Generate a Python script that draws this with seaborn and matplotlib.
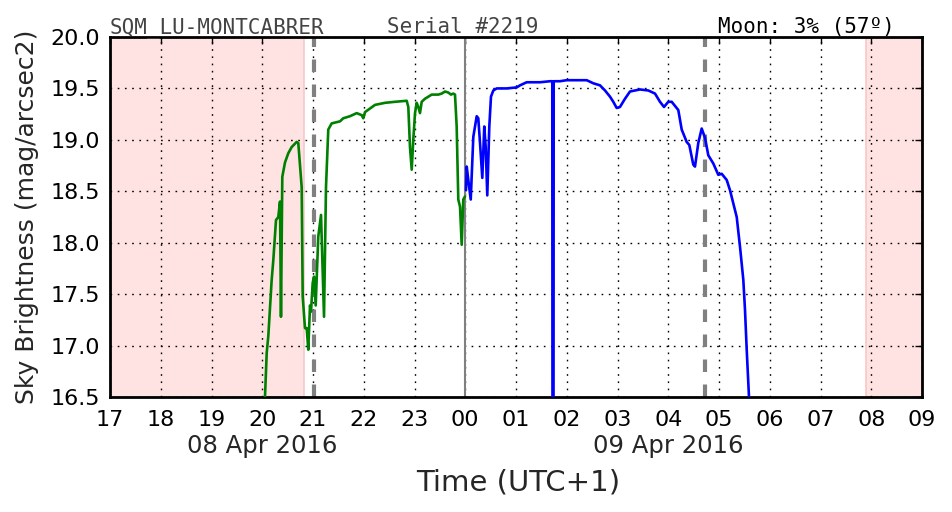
import matplotlib
matplotlib.use("Agg")
import matplotlib.pyplot as plt
import seaborn as sns
import numpy as np
import pandas as pd

# ---- data (hours since 00:00 on 08 Apr 2016; >24 means 09 Apr) ----
green_t = [20.03, 20.054, 20.088, 20.119, 20.186, 20.218, 20.271, 20.316, 20.350, 20.369,
           20.395, 20.448, 20.513, 20.580, 20.679, 20.710, 20.777, 20.797, 20.842, 20.876,
           20.907, 20.941, 20.961, 20.994, 21.020, 21.053, 21.104, 21.158, 21.217, 21.256,
           21.301, 21.368, 21.532, 21.597, 21.729, 21.861, 21.960, 21.991, 22.025, 22.222,
           22.419, 22.616, 22.846, 22.878, 22.911, 22.945, 22.976, 23.010, 23.043, 23.075,
           23.108, 23.142, 23.207, 23.339, 23.469, 23.536, 23.601, 23.666, 23.719, 23.764,
           23.798, 23.831, 23.863, 23.897, 23.930, 23.961, 23.995]
green_v = [16.30, 16.50, 16.93, 17.09, 17.64, 17.83, 18.22, 18.25, 18.40, 17.28,
           18.64, 18.78, 18.87, 18.93, 18.98, 18.97, 18.54, 17.48, 17.17, 17.17,
           16.96, 17.39, 17.33, 17.61, 17.67, 17.39, 18.06, 18.27, 17.28, 18.54,
           19.10, 19.16, 19.18, 19.21, 19.23, 19.26, 19.24, 19.21, 19.27, 19.34,
           19.36, 19.37, 19.38, 19.32, 18.93, 18.71, 19.00, 19.26, 19.36, 19.32,
           19.26, 19.37, 19.40, 19.44, 19.44, 19.45, 19.47, 19.46, 19.44, 19.45,
           19.44, 19.13, 18.42, 18.35, 17.98, 18.42, 18.45]

blue_t = [24.015, 24.029, 24.060, 24.108, 24.159, 24.226, 24.257, 24.291, 24.336, 24.375,
          24.403, 24.434, 24.474, 24.507, 24.553, 24.620, 24.817, 25.014, 25.079, 25.211,
          25.473, 25.670, 25.715, 25.722, 25.736, 25.743, 25.867, 25.999, 26.129, 26.261,
          26.393, 26.523, 26.655, 26.754, 26.852, 26.917, 26.984, 27.049, 27.148, 27.246,
          27.443, 27.607, 27.739, 27.837, 27.916, 28.001, 28.068, 28.198, 28.265, 28.363,
          28.415, 28.493, 28.527, 28.592, 28.659, 28.724, 28.789, 28.888, 28.986, 29.053,
          29.152, 29.217, 29.349, 29.414, 29.479, 29.512, 29.546, 29.591, 29.62]
blue_v = [18.51, 18.74, 18.61, 18.42, 19.03, 19.23, 19.21, 18.97, 18.63, 19.13,
          18.93, 18.46, 19.13, 19.42, 19.48, 19.50, 19.50, 19.51, 19.53, 19.56,
          19.56, 19.57, 19.57, 14.00, 14.00, 19.57, 19.57, 19.58, 19.58, 19.58,
          19.58, 19.55, 19.53, 19.48, 19.42, 19.37, 19.31, 19.32, 19.40, 19.47,
          19.49, 19.48, 19.45, 19.37, 19.32, 19.37, 19.37, 19.29, 19.10, 18.98,
          18.95, 18.76, 18.74, 18.97, 19.11, 19.02, 18.85, 18.77, 18.66, 18.67,
          18.61, 18.51, 18.25, 17.96, 17.64, 17.35, 16.96, 16.50, 16.30]

tick_hours = list(range(17, 34))
tick_labels = ["17", "18", "19", "20", "21", "22", "23", "00", "01", "02",
               "03", "04", "05", "06", "07", "08", "09"]
date_labels = ["08 Apr 2016", "09 Apr 2016"]
date_hours = [20, 28]
twilight_spans = [(17.0, 20.82), (31.896, 33.0)]
moon_lines = [21.02, 28.724]
midnight = 24.0
title_left = "SQM_LU-MONTCABRER"
title_mid = "Serial #2219"
title_right = "Moon: 3% (57º)"

df_g = pd.DataFrame({"t": green_t, "v": green_v})
df_b = pd.DataFrame({"t": blue_t, "v": blue_v})

sns.set_style("white")
plt.rcParams["font.family"] = ["DejaVu Sans"]

fig = plt.figure(figsize=(9.52, 5.12), dpi=100)
ax = fig.add_axes([110/952, 1-397/512, 812/952, 360/512])

for a, b in twilight_spans:
    ax.axvspan(a, b, facecolor="#ffe3e3", edgecolor="#f8c8c8", lw=1.2, zorder=0)

ax.grid(True, color="black", linestyle=(0, (1.2, 4.0)), linewidth=1.0, zorder=1)
ax.set_axisbelow(True)

ax.axvline(midnight, color="gray", lw=1.5, zorder=2)
for m in moon_lines:
    ax.axvline(m, color="gray", lw=3, dashes=(3, 3), zorder=2)

sns.lineplot(data=df_g, x="t", y="v", ax=ax, color="green", lw=1.9,
             estimator=None, sort=False, zorder=3)
sns.lineplot(data=df_b, x="t", y="v", ax=ax, color="blue", lw=1.9,
             estimator=None, sort=False, zorder=3)

ax.set_xlim(17, 33)
ax.set_ylim(16.5, 20.0)
ax.set_xticks(tick_hours)
ax.set_xticklabels(tick_labels, fontsize=16)
ax.set_yticks(np.arange(16.5, 20.01, 0.5))
ax.set_yticklabels([f"{v:.1f}" for v in np.arange(16.5, 20.01, 0.5)], fontsize=16)
ax.tick_params(axis="both", direction="in", length=5, width=1, top=True, right=True,
               colors="black", pad=7)
ax.tick_params(axis="x", pad=9)
for s in ax.spines.values():
    s.set_visible(True)
    s.set_color("black")
    s.set_linewidth(2)

ax.set_xlabel("")
ax.set_ylabel("Sky Brightness (mag/arcsec2)", fontsize=18)
ax.yaxis.set_label_coords(-0.088, 0.5)

for h, lab in zip(date_hours, date_labels):
    ax.text(h, -0.136, lab, transform=ax.get_xaxis_transform(), ha="center",
            va="center", fontsize=17.5)
fig.text(518/952, 1-482/512, "Time (UTC+1)", ha="center", va="center",
         fontsize=21)

fig.text(110/952, 1-33/512, title_left, ha="left", va="baseline",
         fontsize=15, family="DejaVu Sans Mono", color="#444444")
fig.text(387/952, 1-33/512, title_mid, ha="left", va="baseline",
         fontsize=15, family="DejaVu Sans Mono", color="#444444")
fig.text(895/952, 1-33/512, title_right, ha="right", va="baseline",
         fontsize=15, family="DejaVu Sans Mono", color="black")

fig.savefig("out.png", dpi=100)
